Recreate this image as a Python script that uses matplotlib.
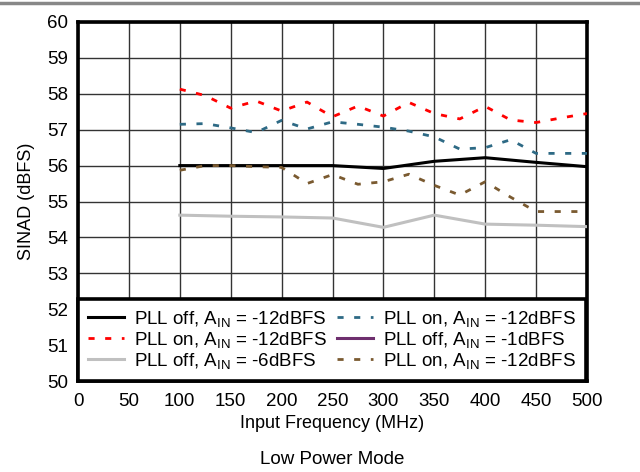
import matplotlib
matplotlib.use("Agg")
import matplotlib.pyplot as plt
from matplotlib.lines import Line2D

plt.rcParams['font.family'] = ['Liberation Sans', 'DejaVu Sans']
plt.rcParams['mathtext.fontset'] = 'custom'
plt.rcParams['mathtext.rm'] = 'Liberation Sans'
plt.rcParams['mathtext.it'] = 'Liberation Sans'

# ---- data ----
freq_50 = [100, 150, 200, 250, 300, 350, 400, 450, 500]
pll_off_m12 = [56.0, 56.0, 56.0, 56.0, 55.92, 56.12, 56.22, 56.09, 55.97]
pll_off_m6 = [54.62, 54.59, 54.57, 54.54, 54.28, 54.62, 54.37, 54.34, 54.30]

freq_25 = [100, 125, 150, 175, 200, 225, 250, 275, 300, 325, 350, 375, 400, 425, 450, 475, 500]
pll_on_red = [58.13, 57.95, 57.6, 57.8, 57.52, 57.77, 57.36, 57.66, 57.38, 57.76, 57.45, 57.3, 57.65,
              57.27, 57.2, 57.33, 57.45]
pll_on_blue = [57.15, 57.17, 57.05, 56.92, 57.26, 57.02, 57.22, 57.15, 57.07, 56.96, 56.8, 56.46, 56.5,
               56.72, 56.34, 56.34, 56.34]
pll_on_brown = [55.87, 56.0, 56.0, 55.97, 55.95, 55.5, 55.75, 55.48, 55.55, 55.76, 55.45, 55.18, 55.55,
                55.12, 54.72, 54.72, 54.72]
pll_off_m1_freq = []
pll_off_m1 = []

labels = [r'PLL off, A$_{\mathrm{IN}}$ = -12dBFS',
          r'PLL on, A$_{\mathrm{IN}}$ = -12dBFS',
          r'PLL off, A$_{\mathrm{IN}}$ = -6dBFS',
          r'PLL on, A$_{\mathrm{IN}}$ = -12dBFS',
          r'PLL off, A$_{\mathrm{IN}}$ = -1dBFS',
          r'PLL on, A$_{\mathrm{IN}}$ = -12dBFS']

x_ticks = [0, 50, 100, 150, 200, 250, 300, 350, 400, 450, 500]
y_ticks = [50, 51, 52, 53, 54, 55, 56, 57, 58, 59, 60]

# ---- figure ----
fig = plt.figure(figsize=(6.4, 4.72), dpi=100)
ax = fig.add_axes([78/640, 1 - 381/472, (587-78)/640, (381-22)/472])

dash = (2.2, 3.8)
lw = 2.0
l1, = ax.plot(freq_50, pll_off_m12, color='black', lw=2.2, label=labels[0], zorder=5)
l2, = ax.plot(freq_25, pll_on_red, color='#ff0000', lw=lw, dashes=dash, label=labels[1], zorder=5)
l3, = ax.plot(freq_50, pll_off_m6, color='#c0c0c0', lw=2.2, label=labels[2], zorder=5)
l4, = ax.plot(freq_25, pll_on_blue, color='#2e6a85', lw=lw, dashes=dash, label=labels[3], zorder=5)
l5, = ax.plot(pll_off_m1_freq, pll_off_m1, color='#6e2f6e', lw=2.2, label=labels[4], zorder=5)
l6, = ax.plot(freq_25, pll_on_brown, color='#7a5a30', lw=lw, dashes=dash, label=labels[5], zorder=5)

ax.set_xlim(0, 500)
ax.set_ylim(50, 60)
ax.set_xticks(x_ticks)
ax.set_yticks(y_ticks)
ax.tick_params(length=0, labelsize=13.5)
ax.tick_params(axis='x', pad=9)
ax.tick_params(axis='y', pad=7)
ax.grid(True, color='#333333', lw=1.0)
ax.set_axisbelow(True)
for s in ax.spines.values():
    s.set_linewidth(2.6)
    s.set_color('black')

ax.set_xlabel('Input Frequency (MHz)', fontsize=13, labelpad=3)
ax.set_ylabel('SINAD (dBFS)', fontsize=13, labelpad=9)

leg = ax.legend(handles=[l1, l2, l3, l4, l5, l6], ncol=2, loc='lower left',
                bbox_to_anchor=(0, 0), borderaxespad=0,
                fontsize=13.5, frameon=True, fancybox=False, framealpha=1,
                edgecolor='black', handlelength=1.9, handletextpad=0.55,
                columnspacing=0.55, labelspacing=0.05, borderpad=0.55)
leg.get_frame().set_linewidth(2.6)
leg.set_zorder(10)

fig.text((78+587)/2/640, 1 - 459/472, 'Low Power Mode', fontsize=13.5, ha='center', va='center')
fig.add_artist(Line2D([0, 1], [1 - 3/472, 1 - 3/472], color='#888888', lw=2.5, transform=fig.transFigure))

fig.savefig('out.png', dpi=100)
